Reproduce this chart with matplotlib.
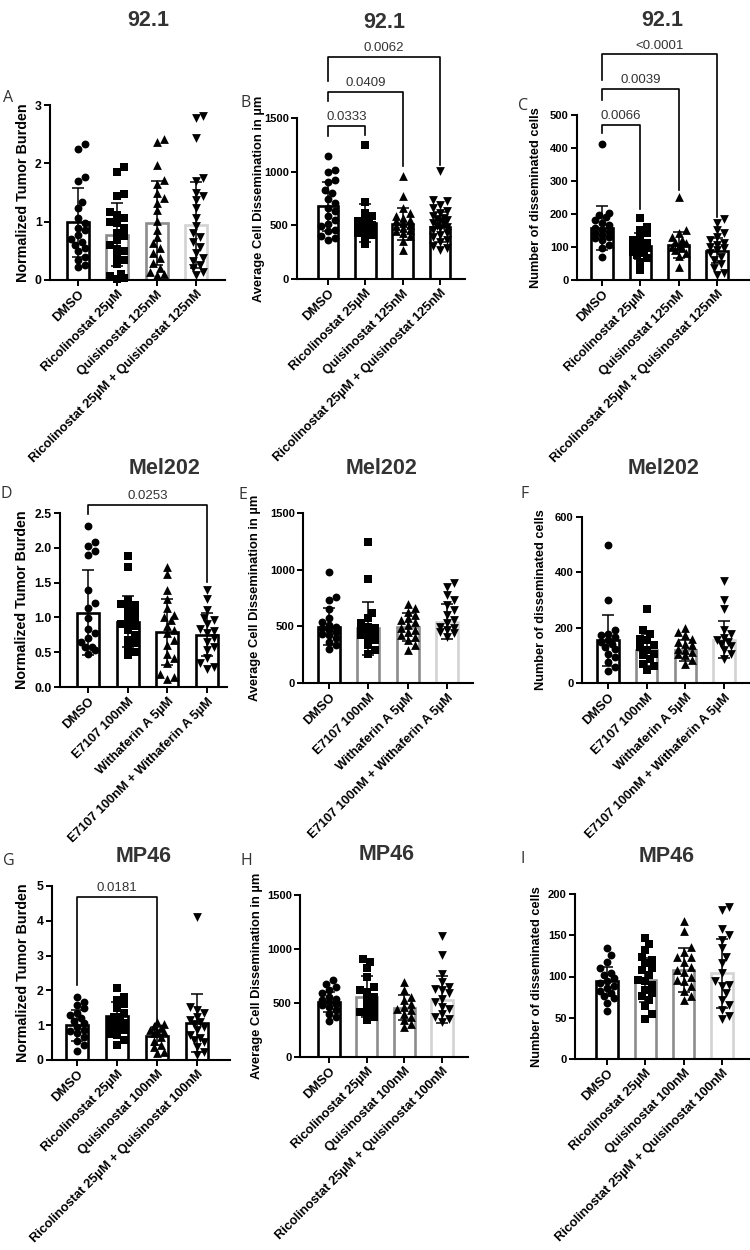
import numpy as np
import matplotlib
matplotlib.use('Agg')
import matplotlib.pyplot as plt

plt.rcParams['font.family'] = ['Liberation Sans', 'DejaVu Sans']

# ---------------- categories ----------------
cats_92 = ['DMSO', 'Ricolinostat 25µM', 'Quisinostat 125nM', 'Ricolinostat 25µM + Quisinostat 125nM']
cats_mel = ['DMSO', 'E7107 100nM', 'Withaferin A 5µM', 'E7107 100nM + Withaferin A 5µM']
cats_mp = ['DMSO', 'Ricolinostat 25µM', 'Quisinostat 100nM', 'Ricolinostat 25µM + Quisinostat 100nM']

# ---------------- panel A (92.1, tumor burden) ----------------
A_dmso = [2.33, 2.25, 1.77, 1.70, 1.34, 1.23, 1.06, 0.98, 0.90, 0.86, 0.78, 0.70, 0.66, 0.60, 0.55, 0.50, 0.40, 0.35, 0.25, 0.23]
A_ric = [1.93, 1.85, 1.48, 1.44, 1.17, 1.12, 1.06, 1.00, 0.97, 0.89, 0.80, 0.75, 0.68, 0.60, 0.53, 0.49, 0.41, 0.34, 0.27, 0.10, 0.07, 0.03, 0.01]
A_qui = [2.41, 2.37, 1.97, 1.72, 1.65, 1.49, 1.41, 1.32, 1.20, 1.02, 0.86, 0.74, 0.63, 0.55, 0.46, 0.37, 0.29, 0.20, 0.14, 0.10, 0.09]
A_combo = [2.82, 2.78, 2.43, 1.75, 1.70, 1.50, 1.44, 1.38, 1.24, 1.06, 0.92, 0.80, 0.74, 0.66, 0.57, 0.46, 0.37, 0.33, 0.26, 0.20, 0.14, 0.09]
A_means = [0.99, 0.78, 0.98, 0.94]
A_sds = [0.59, 0.54, 0.72, 0.74]

# ---------------- panel B (92.1, dissemination distance) ----------------
B_dmso = [1143, 1019, 994, 926, 901, 832, 801, 745, 708, 662, 630, 590, 553, 516, 491, 460, 444, 404, 382, 366]
B_ric = [1245, 717, 615, 584, 553, 537, 528, 516, 506, 497, 491, 475, 466, 460, 444, 429, 413, 398, 329]
B_qui = [957, 770, 662, 615, 584, 568, 553, 537, 522, 506, 497, 475, 453, 444, 429, 398, 351, 267]
B_combo = [1003, 739, 724, 693, 662, 630, 615, 590, 568, 560, 553, 537, 522, 510, 497, 480, 475, 460, 429, 413, 391, 366, 342, 311, 289, 267]
B_means = [677, 522, 512, 481]
B_sds = [230, 180, 150, 140]
B_brackets = [(0, 1, 1429, 1329, 1345, '0.0333'),
              (0, 2, 1742, 1655, 1050, '0.0409'),
              (0, 3, 2069, 1842, 1065, '0.0062')]

# ---------------- panel C (92.1, number of cells) ----------------
C_dmso = [411, 202, 197, 192, 182, 172, 167, 157, 152, 146, 141, 136, 129, 126, 121, 106, 96, 71]
C_ric = [187, 162, 152, 141, 131, 121, 113, 106, 101, 96, 91, 86, 81, 76, 66, 56, 30]
C_qui = [253, 152, 141, 131, 121, 115, 111, 103, 99, 96, 91, 81, 73, 40]
C_combo = [184, 174, 152, 141, 131, 121, 111, 106, 101, 96, 91, 81, 71, 61, 50, 35, 22, 15]
C_means = [157, 103, 106, 89]
C_sds = [67, 38, 40, 38]
C_brackets = [(0, 1, 470, 444, 214, '0.0066'),
              (0, 2, 578, 545, 273, '0.0039'),
              (0, 3, 684, 606, 192, '<0.0001')]

# ---------------- panel D (Mel202, tumor burden) ----------------
D_dmso = [2.32, 2.09, 2.02, 1.95, 1.90, 1.39, 1.21, 1.13, 0.99, 0.83, 0.77, 0.70, 0.65, 0.58, 0.57, 0.53, 0.48]
D_e7 = [1.88, 1.72, 1.25, 1.19, 1.18, 1.13, 1.08, 1.02, 0.97, 0.92, 0.90, 0.87, 0.82, 0.75, 0.68, 0.63, 0.57, 0.50, 0.46]
D_wa = [1.73, 1.63, 1.39, 1.26, 1.14, 1.03, 1.01, 0.96, 0.87, 0.82, 0.77, 0.67, 0.60, 0.48, 0.41, 0.34, 0.18, 0.14, 0.12]
D_combo = [1.39, 1.26, 1.10, 0.99, 0.96, 0.90, 0.84, 0.80, 0.77, 0.70, 0.65, 0.58, 0.53, 0.41, 0.34, 0.29, 0.26]
D_means = [1.07, 0.94, 0.79, 0.75]
D_sds = [0.61, 0.37, 0.47, 0.31]
D_brackets = [(0, 3, 2.62, 2.48, 1.51, '0.0253')]

# ---------------- panel E (Mel202, dissemination distance) ----------------
E_dmso = [983, 762, 732, 650, 570, 540, 511, 495, 481, 466, 452, 436, 422, 393, 363, 334, 304]
E_e7 = [1243, 918, 620, 570, 532, 496, 481, 467, 452, 437, 422, 408, 378, 334, 289, 254]
E_wa = [697, 658, 629, 599, 570, 555, 540, 511, 481, 467, 452, 422, 408, 378, 334, 295]
E_combo = [880, 850, 777, 732, 688, 644, 599, 555, 526, 496, 481, 467, 452, 437, 408]
E_means = [496, 481, 496, 540]
E_sds = [165, 233, 125, 155]

# ---------------- panel F (Mel202, number of cells) ----------------
F_dmso = [498, 301, 190, 178, 172, 166, 154, 148, 142, 130, 124, 106, 94, 76, 58, 43]
F_e7 = [269, 190, 178, 160, 157, 136, 130, 120, 106, 100, 88, 70, 60, 46]
F_wa = [199, 184, 172, 160, 148, 140, 136, 124, 118, 112, 106, 100, 82, 70]
F_combo = [367, 299, 269, 190, 178, 164, 155, 148, 140, 133, 118, 104, 88]
F_means = [155, 120, 118, 157]
F_sds = [92, 58, 38, 67]

# ---------------- panel G (MP46, tumor burden) ----------------
G_dmso = [1.82, 1.68, 1.58, 1.48, 1.34, 1.29, 1.20, 1.13, 1.07, 0.96, 0.86, 0.82, 0.77, 0.67, 0.56, 0.43, 0.27]
G_ric = [2.08, 1.82, 1.72, 1.60, 1.48, 1.34, 1.25, 1.23, 1.15, 1.07, 1.05, 0.98, 0.90, 0.86, 0.76, 0.72, 0.57, 0.43]
G_qui = [1.10, 1.03, 0.98, 0.91, 0.86, 0.84, 0.80, 0.77, 0.67, 0.56, 0.43, 0.36, 0.24, 0.19]
G_combo = [4.10, 1.51, 1.44, 1.34, 1.23, 1.15, 1.10, 1.03, 0.96, 0.86, 0.72, 0.62, 0.57, 0.53, 0.38, 0.24, 0.14]
G_means = [1.00, 1.26, 0.69, 1.07]
G_sds = [0.45, 0.42, 0.25, 0.83]
G_brackets = [(0, 2, 4.69, 2.16, 1.15, '0.0181')]

# ---------------- panel H (MP46, dissemination distance) ----------------
H_dmso = [711, 680, 649, 619, 588, 557, 541, 526, 510, 495, 480, 464, 433, 402, 371, 334]
H_ric = [912, 881, 820, 742, 649, 618, 603, 557, 526, 495, 464, 433, 418, 402, 371, 340]
H_qui = [696, 619, 557, 526, 495, 464, 448, 433, 402, 371, 340, 309, 278]
H_combo = [1120, 949, 773, 696, 649, 630, 619, 588, 541, 510, 464, 449, 402, 371, 356, 325]
H_means = [510, 557, 458, 532]
H_sds = [95, 190, 120, 215]

# ---------------- panel I (MP46, number of cells) ----------------
I_dmso = [135, 126, 118, 110, 104, 102, 98, 94, 92, 88, 86, 82, 80, 76, 74, 68, 58]
I_ric = [147, 140, 132, 124, 120, 116, 110, 108, 102, 96, 94, 90, 84, 80, 76, 72, 64, 54, 48]
I_qui = [167, 155, 136, 130, 124, 124, 118, 112, 108, 106, 100, 96, 94, 88, 82, 76, 72]
I_combo = [184, 181, 158, 150, 144, 134, 124, 116, 104, 94, 90, 88, 80, 72, 66, 60, 52, 48]
I_means = [94, 96, 108, 104]
I_sds = [18, 27, 27, 42]

# ---------------- styling / layout ----------------
W, H = 750, 1250
fig = plt.figure(figsize=(W / 100, H / 100), dpi=100)

BLACK_EDGES = ['#000000'] * 4
GRAY_EDGES = ['#000000', '#8c8c8c', '#8c8c8c', '#d3d3d3']
MARKERS = ['o', 's', '^', 'v']
MSIZE = {'o': 32, 's': 28, '^': 40, 'v': 40}

YL_TB = 'Normalized Tumor Burden'
YL_AD = 'Average Cell Dissemination in µm'
YL_NC = 'Number of disseminated cells'
YL_SIZE = {YL_TB: 10.3, YL_AD: 9.3, YL_NC: 9.2}
TICK_SIZE = {YL_TB: 8.8, YL_AD: 8.0, YL_NC: 8.0}

panels = [
    dict(letter='A', let_xy=(3, 98), title='92.1', title_xy=(148, 21), rect=(50, 105, 225, 280), g=(78, 196), ylx=23,
         data=[A_dmso, A_ric, A_qui, A_combo], means=A_means, sds=A_sds, ylim=(0, 3), yticks=[0, 1, 2, 3],
         fmt='{:.0f}', ylabel=YL_TB, cats=cats_92, edges=GRAY_EDGES, brackets=[]),
    dict(letter='B', let_xy=(240, 103), title='92.1', title_xy=(384, 22), rect=(297, 118, 465, 279), g=(328, 440), ylx=259,
         data=[B_dmso, B_ric, B_qui, B_combo], means=B_means, sds=B_sds, ylim=(0, 1500), yticks=[0, 500, 1000, 1500],
         fmt='{:.0f}', ylabel=YL_AD, cats=cats_92, edges=BLACK_EDGES, brackets=B_brackets),
    dict(letter='C', let_xy=(518, 106), title='92.1', title_xy=(662, 20), rect=(577, 115, 749, 280), g=(602, 717), ylx=536,
         data=[C_dmso, C_ric, C_qui, C_combo], means=C_means, sds=C_sds, ylim=(0, 500), yticks=[0, 100, 200, 300, 400, 500],
         fmt='{:.0f}', ylabel=YL_NC, cats=cats_92, edges=BLACK_EDGES, brackets=C_brackets),
    dict(letter='D', let_xy=(1, 494), title='Mel202', title_xy=(165, 468), rect=(60, 513, 227, 687), g=(88, 207), ylx=22,
         data=[D_dmso, D_e7, D_wa, D_combo], means=D_means, sds=D_sds, ylim=(0, 2.5), yticks=[0, 0.5, 1.0, 1.5, 2.0, 2.5],
         fmt='{:.1f}', ylabel=YL_TB, cats=cats_mel, edges=BLACK_EDGES, brackets=D_brackets),
    dict(letter='E', let_xy=(239, 495), title='Mel202', title_xy=(382, 468), rect=(303, 513, 473, 683), g=(329, 447), ylx=255,
         data=[E_dmso, E_e7, E_wa, E_combo], means=E_means, sds=E_sds, ylim=(0, 1500), yticks=[0, 500, 1000, 1500],
         fmt='{:.0f}', ylabel=YL_AD, cats=cats_mel, edges=GRAY_EDGES, brackets=[]),
    dict(letter='F', let_xy=(521, 494), title='Mel202', title_xy=(664, 468), rect=(582, 517, 749, 683), g=(608, 724), ylx=541,
         data=[F_dmso, F_e7, F_wa, F_combo], means=F_means, sds=F_sds, ylim=(0, 600), yticks=[0, 200, 400, 600],
         fmt='{:.0f}', ylabel=YL_NC, cats=cats_mel, edges=GRAY_EDGES, brackets=[]),
    dict(letter='G', let_xy=(3, 861), title='MP46', title_xy=(144, 857), rect=(52, 886, 230, 1060), g=(77, 197), ylx=23,
         data=[G_dmso, G_ric, G_qui, G_combo], means=G_means, sds=G_sds, ylim=(0, 5), yticks=[0, 1, 2, 3, 4, 5],
         fmt='{:.0f}', ylabel=YL_TB, cats=cats_mp, edges=BLACK_EDGES, brackets=G_brackets),
    dict(letter='H', let_xy=(240, 861), title='MP46', title_xy=(387, 854), rect=(300, 895, 468, 1057), g=(329, 442), ylx=257,
         data=[H_dmso, H_ric, H_qui, H_combo], means=H_means, sds=H_sds, ylim=(0, 1500), yticks=[0, 500, 1000, 1500],
         fmt='{:.0f}', ylabel=YL_AD, cats=cats_mp, edges=GRAY_EDGES, brackets=[]),
    dict(letter='I', let_xy=(520, 859), title='MP46', title_xy=(667, 857), rect=(575, 894, 749, 1059), g=(607, 722), ylx=537,
         data=[I_dmso, I_ric, I_qui, I_combo], means=I_means, sds=I_sds, ylim=(0, 200), yticks=[0, 50, 100, 150, 200],
         fmt='{:.0f}', ylabel=YL_NC, cats=cats_mp, edges=GRAY_EDGES, brackets=[]),
]


def swarm_offsets(ax, xc, vals, dia=7.0, maxoff=9.5):
    """Deterministic beeswarm in pixel space; returns x offsets in data units."""
    tr = ax.transData
    ypix = tr.transform(np.column_stack([np.full(len(vals), xc), vals]))[:, 1]
    sx = tr.transform((1, 0))[0] - tr.transform((0, 0))[0]
    step = dia * 0.5
    cands = [0.0]
    k = 1
    while k * step <= maxoff:
        cands += [k * step, -k * step]
        k += 1
    order = np.argsort(ypix)
    placed = []
    offs = np.zeros(len(vals))
    for idx in order:
        y = ypix[idx]
        best, bestd = 0.0, -1
        for c in cands:
            d = min([np.hypot(c - px, y - py) for px, py in placed], default=1e9)
            if d >= dia * 0.95:
                best = c
                break
            if d > bestd:
                bestd, best = d, c
        placed.append((best, y))
        offs[idx] = best / sx
    return offs


for p in panels:
    l, t, r, b = p['rect']
    ax = fig.add_axes([l / W, 1 - b / H, (r - l) / W, (b - t) / H])
    g0, g3 = p['g']
    s = (g3 - g0) / 3.0
    ax.set_xlim((l - g0) / s, (r - g0) / s)
    ax.set_ylim(*p['ylim'])
    x = np.arange(4)
    ax.bar(x, p['means'], width=0.56, color='white', edgecolor=p['edges'], linewidth=1.9, zorder=1)
    for i, vals in enumerate(p['data']):
        offs = swarm_offsets(ax, i, vals)
        m = MARKERS[i]
        ax.scatter(i + offs, vals, marker=m, s=MSIZE[m], c='black', linewidths=0, zorder=3, clip_on=False)
    ax.errorbar(x, p['means'], yerr=p['sds'], fmt='none', ecolor='black', elinewidth=1.1,
                capsize=4.5, capthick=1.1, zorder=4)

    for (i, j, hgt, lb, rb, lab) in p['brackets']:
        ax.plot([i, i, j, j], [lb, hgt, hgt, rb], color='black', lw=1.2, clip_on=False, zorder=5)
        ax.annotate(lab, xy=((i + j) / 2, hgt), xytext=(0, 2), textcoords='offset points',
                    ha='center', va='bottom', fontsize=9.5, color='#333333', annotation_clip=False)

    for sp in ['top', 'right']:
        ax.spines[sp].set_visible(False)
    for sp in ['left', 'bottom']:
        ax.spines[sp].set_linewidth(1.5)
    ax.set_yticks(p['yticks'])
    ax.set_yticklabels([p['fmt'].format(v) for v in p['yticks']], fontsize=TICK_SIZE[p['ylabel']],
                       fontweight='bold')
    ax.set_xticks(x)
    ax.set_xticklabels(p['cats'], rotation=45, ha='right', rotation_mode='anchor',
                       fontsize=9.3, fontweight='bold')
    ax.tick_params(axis='both', direction='out', length=4, width=1.4, pad=2, colors='black')
    ax.set_ylabel(p['ylabel'], fontsize=YL_SIZE[p['ylabel']], fontweight='bold')
    ax.yaxis.label.set_va('center')
    ax.yaxis.set_label_coords((p['ylx'] - l) / (r - l), 0.5)

    fig.text(p['title_xy'][0] / W, 1 - p['title_xy'][1] / H, p['title'], ha='center', va='center',
             fontsize=15.5, fontweight='bold', color='#333333')
    fig.text(p['let_xy'][0] / W, 1 - p['let_xy'][1] / H, p['letter'], ha='left', va='center',
             fontsize=11.5, color='#333333', family=['Open Sans', 'DejaVu Sans'])

fig.savefig('out.png', dpi=100, facecolor='white')
